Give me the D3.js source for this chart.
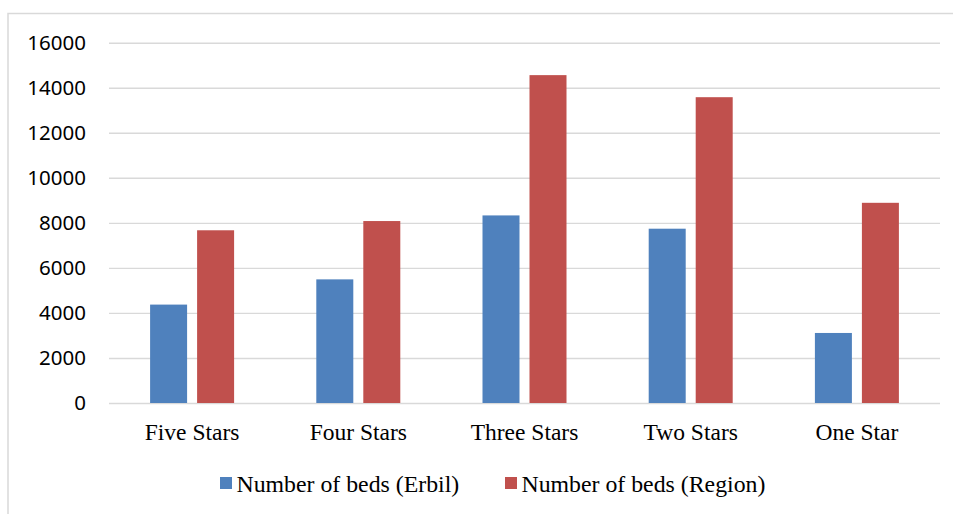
<!DOCTYPE html>
<html>
<head>
<meta charset="utf-8">
<script src="https://cdn.jsdelivr.net/npm/d3@7"></script>
<style>
  html, body { margin: 0; padding: 0; background: #ffffff; }
  svg { display: block; }
</style>
</head>
<body>
<svg id="chart" width="953" height="514"></svg>
<script>
// Hotel bed capacity by star rating
const categories = ["Five Stars", "Four Stars", "Three Stars", "Two Stars", "One Star"];
const seriesNames = ["Number of beds (Erbil)", "Number of beds (Region)"];
const erbilBeds = [4370, 5490, 8330, 7740, 3110];
const regionBeds = [7670, 8080, 14560, 13580, 8890];
const yTicks = [0, 2000, 4000, 6000, 8000, 10000, 12000, 14000, 16000];
const seriesColors = ["#4F81BD", "#C0504D"];

const seriesValues = [erbilBeds, regionBeds];

const svg = d3.select("#chart");
const W = 953, H = 514;
const plot = { left: 109, right: 940, top: 42.7, bottom: 403 };

// chart frame
svg.append("rect")
  .attr("x", 8).attr("y", 13.5)
  .attr("width", W + 10).attr("height", H + 10)
  .attr("fill", "#ffffff")
  .attr("stroke", "#d9d9d9")
  .attr("stroke-width", 1.5);

const x0 = d3.scaleBand().domain(categories).range([plot.left, plot.right]).padding(0);
const groupW = 84;
const x1 = d3.scaleBand().domain(seriesNames)
  .range([(x0.bandwidth() - groupW) / 2, (x0.bandwidth() + groupW) / 2])
  .paddingInner(0.2128).paddingOuter(0);
const y = d3.scaleLinear().domain([0, 16000]).range([plot.bottom, plot.top]);

// gridlines and y labels
const yAxis = d3.axisLeft(y).tickValues(yTicks).tickSize(-(plot.right - plot.left)).tickPadding(23).tickFormat(d3.format("d"));
const yg = svg.append("g").attr("transform", `translate(${plot.left},0)`).call(yAxis);
yg.select(".domain").remove();
yg.selectAll(".tick line").attr("stroke", "#d9d9d9").attr("stroke-width", 1.4);
yg.selectAll(".tick text")
  .attr("fill", "#000")
  .style("font-family", "'Noto Sans', 'Liberation Sans', sans-serif")
  .style("font-size", "20.5px");

// bars
const groups = svg.append("g").selectAll("g")
  .data(categories)
  .join("g")
  .attr("transform", d => `translate(${x0(d)},0)`);

groups.selectAll("rect")
  .data((c, i) => seriesNames.map((s, k) => ({ s, k, v: seriesValues[k][i] })))
  .join("rect")
  .attr("x", d => x1(d.s))
  .attr("width", x1.bandwidth())
  .attr("y", d => y(d.v))
  .attr("height", d => y(0) - y(d.v))
  .attr("fill", d => seriesColors[d.k]);

// category labels
const xAxis = d3.axisBottom(x0).tickSize(0).tickPadding(0);
const xg = svg.append("g").attr("transform", `translate(0,${plot.bottom})`).call(xAxis);
xg.select(".domain").remove();
xg.selectAll(".tick text")
  .attr("y", 36.5)
  .attr("dy", null)
  .attr("fill", "#000")
  .style("font-family", "'Liberation Serif', 'Times New Roman', serif")
  .style("font-size", "23.5px");

// legend
const legendItems = [
  { name: seriesNames[0], color: seriesColors[0], x: 220 },
  { name: seriesNames[1], color: seriesColors[1], x: 505 }
];
const lg = svg.append("g");
legendItems.forEach(it => {
  lg.append("rect")
    .attr("x", it.x).attr("y", 477)
    .attr("width", 12).attr("height", 12)
    .attr("fill", it.color);
  lg.append("text")
    .attr("x", it.x + 16.5).attr("y", 491.5)
    .attr("fill", "#000")
    .style("font-family", "'Liberation Serif', 'Times New Roman', serif")
    .style("font-size", "23.8px")
    .text(it.name);
});
</script>
</body>
</html>
